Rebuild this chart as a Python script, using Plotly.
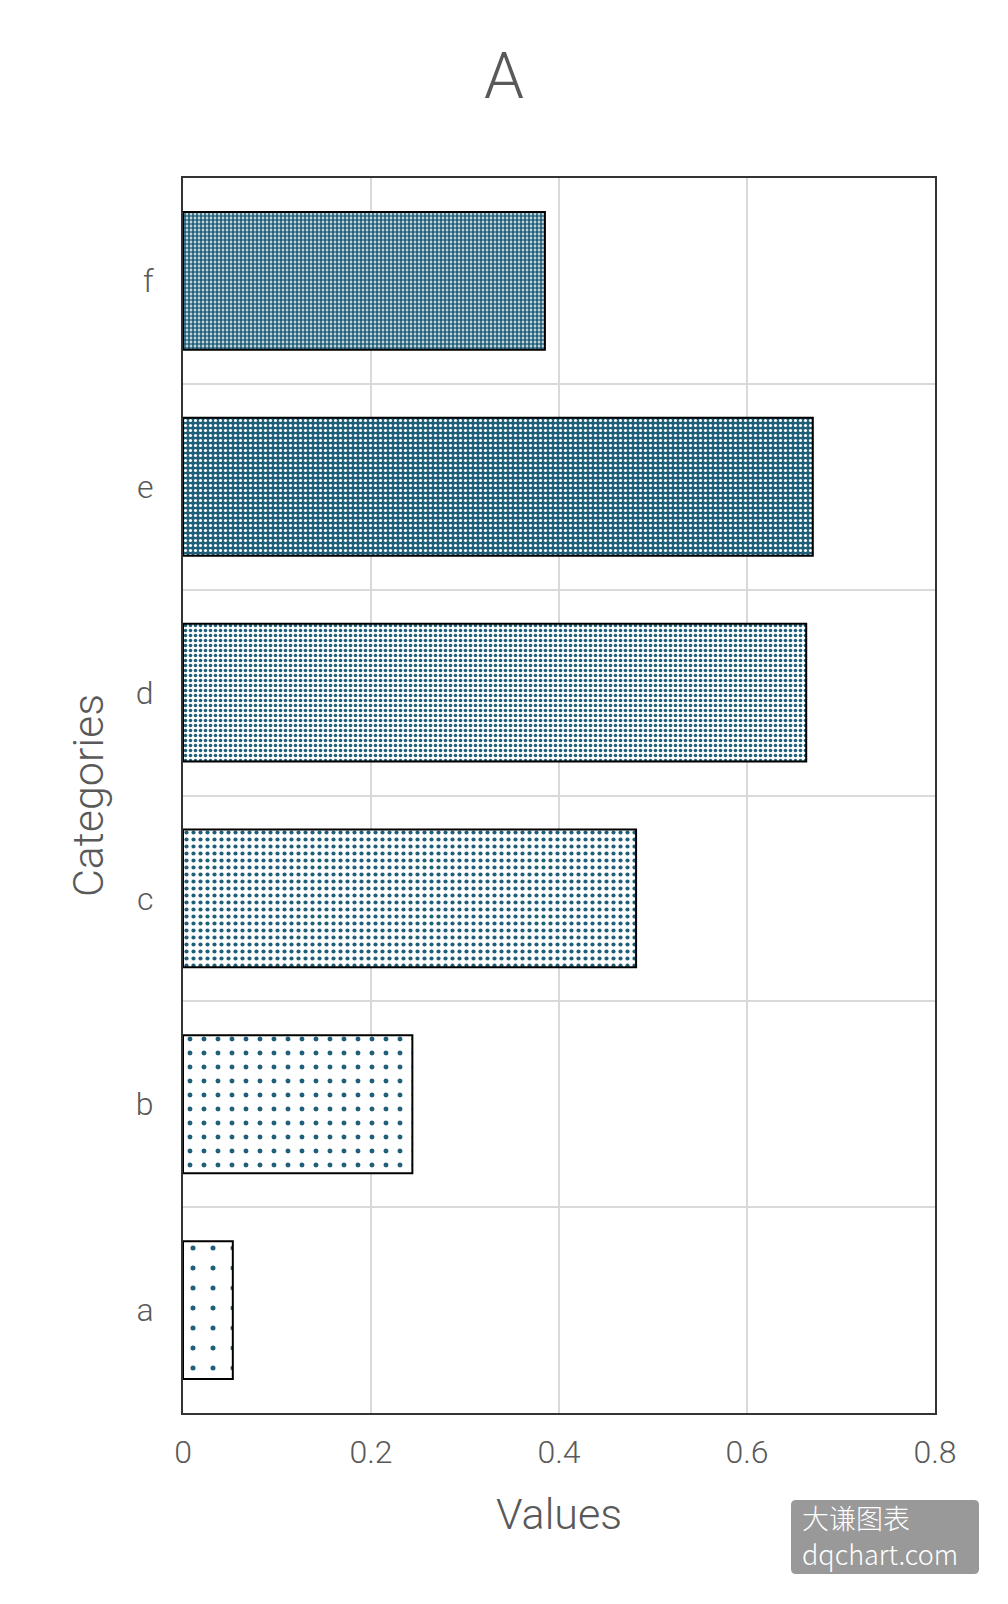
import plotly.graph_objects as go

# chart data
categories = ['a', 'b', 'c', 'd', 'e', 'f']
values = [0.053, 0.244, 0.482, 0.663, 0.670, 0.385]

# one pattern per bar, sparse to dense (Excel-like percent fills)
pattern_sizes = [20, 14, 7, 5, 5, 4]
pattern_solidity = [0.05, 0.1, 0.28, 0.4, 0.3, 0.7]
teal = '#1f5f7a'
pattern_fg = [teal, teal, teal, teal, 'white', teal]
pattern_bg = ['white', 'white', 'white', 'white', teal, 'white']

watermark_lines = ['大谦图表', 'dqchart.com']

text_color = '#595959'
font_name = 'Roboto'

fig = go.Figure(
    go.Bar(
        x=values,
        y=categories,
        orientation='h',
        marker=dict(
            color=teal,
            line=dict(color='black', width=2),
            pattern=dict(
                shape='.',
                size=pattern_sizes,
                solidity=pattern_solidity,
                fgcolor=pattern_fg,
                bgcolor=pattern_bg,
                fgopacity=1,
            ),
        ),
        width=0.67,
    )
)

fig.update_layout(
    width=1008,
    height=1604,
    margin=dict(l=183, r=73, t=178, b=191),
    paper_bgcolor='white',
    plot_bgcolor='white',
    showlegend=False,
    font=dict(family=font_name, color=text_color, weight=300),
    title=dict(
        text='A',
        x=0.5,
        xanchor='center',
        y=1 - 76 / 1604,
        yanchor='middle',
        font=dict(size=64, family=font_name, color=text_color, weight=300),
    ),
)

fig.update_xaxes(
    range=[0, 0.8],
    tickvals=[0, 0.2, 0.4, 0.6, 0.8],
    ticktext=['0', '0.2', '0.4', '0.6', '0.8'],
    tickfont=dict(size=32, color=text_color),
    showgrid=True,
    gridcolor='#d9d9d9',
    gridwidth=2,
    zeroline=False,
    showline=True,
    linecolor='#333333',
    linewidth=2,
    mirror=True,
    ticks='',
    ticklabelstandoff=10,
    title=dict(text='Values', font=dict(size=43, color=text_color), standoff=28),
)

fig.update_yaxes(
    type='category',
    tickson='boundaries',
    tickfont=dict(size=32, color=text_color),
    showgrid=True,
    gridcolor='#d9d9d9',
    gridwidth=2,
    zeroline=False,
    showline=True,
    linecolor='#333333',
    linewidth=2,
    mirror=True,
    ticks='',
    ticklen=0,
    ticklabelstandoff=21,
    title=dict(text='Categories', font=dict(size=43, color=text_color), standoff=19),
)

# watermark: rounded grey box (paper coords, plot area is 752 x 1235 px)
px_w, px_h = 752, 1235
bx0, bx1 = (791 - 183) / px_w, (979 - 183) / px_w
by0, by1 = (1413 - 1574) / px_h, (1413 - 1500) / px_h
rx, ry = 5 / px_w, 5 / px_h
box_path = (
    f'M {bx0 + rx},{by1} L {bx1 - rx},{by1} Q {bx1},{by1} {bx1},{by1 - ry} '
    f'L {bx1},{by0 + ry} Q {bx1},{by0} {bx1 - rx},{by0} '
    f'L {bx0 + rx},{by0} Q {bx0},{by0} {bx0},{by0 + ry} '
    f'L {bx0},{by1 - ry} Q {bx0},{by1} {bx0 + rx},{by1} Z'
)
fig.add_shape(type='path', path=box_path, xref='paper', yref='paper',
              fillcolor='#999999', line=dict(width=0))

for line_text, line_y in zip(watermark_lines, [1517, 1553]):
    fig.add_annotation(
        text=line_text,
        xref='paper', yref='paper',
        x=(801 - 183) / px_w, y=(1413 - line_y) / px_h,
        xanchor='left', yanchor='middle',
        showarrow=False,
        borderpad=0,
        font=dict(size=27, color='white', family='Noto Sans CJK SC'),
    )

# drop the default page margin so the figure fills the window exactly
fig.write_html('out.html', config={'displayModeBar': False},
               post_script="document.body.style.margin='0';")
